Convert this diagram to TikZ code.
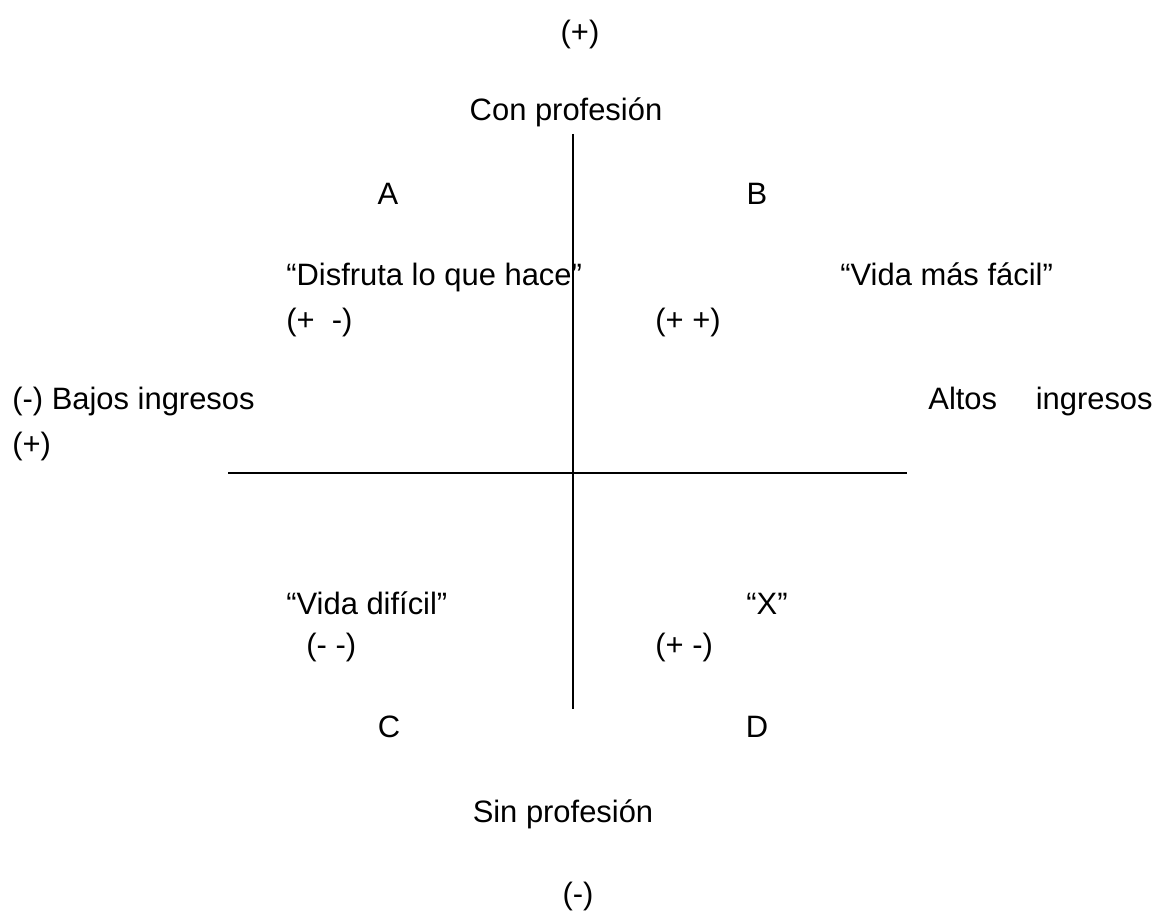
\documentclass[tikz,border=0pt]{standalone}
\usepackage{fontspec}
\setmainfont{Liberation Sans}
\usetikzlibrary{positioning}

\begin{document}
\begin{tikzpicture}[x=0.02cm,y=-0.02cm,
    lbl/.style={inner sep=0pt,font=\fontsize{17.6}{21}\selectfont,
        text height=0.72em,text depth=0.2em}]
            \useasboundingbox (0,0) rectangle (1161,911);
            % axes
            \coordinate (top) at (573,134);
            \coordinate (bottom) at (573,709);
            \coordinate (left) at (228,473);
            \coordinate (right) at (907,473);

            \node [lbl] (plusTop) at (580,38) {(+)};
            \node [lbl] (con) at (566,116) {Con profesión};
            \node [lbl] (A) at (388,200) {A};
            \node [lbl] (B) at (757,200) {B};
            \node [lbl,anchor=west] (disfruta) at (286,281) {“Disfruta lo que hace”};
            \node [lbl,anchor=west] (facil) at (840,281) {“Vida más fácil”};
            \node [lbl,anchor=west] (pm1) at (286,326) {(+\ \ -)};
            \node [lbl,anchor=west] (pp) at (655,326) {(+ +)};
            \node [lbl,anchor=west] (bajos) at (12,405) {(-) Bajos ingresos};
            \node [lbl,anchor=east] (altos) at (1153,405) {Altos\hspace{1.25em}ingresos};
            \node [lbl,anchor=west] (plusLeft) at (12,450) {(+)};
            \node [lbl,anchor=west] (dificil) at (286,610) {“Vida difícil”};
            \node [lbl,anchor=west] (X) at (746,610) {“X”};
            \node [lbl,anchor=west] (mm) at (306,651) {(- -)};
            \node [lbl,anchor=west] (pm2) at (655,651) {(+ -)};
            \node [lbl] (C) at (389,733) {C};
            \node [lbl] (D) at (757,733) {D};
            \node [lbl] (sin) at (563,818) {Sin profesión};
            \node [lbl] (minusBot) at (578,900) {(-)};

            \draw [line width=0.03cm] (top) -- (bottom);
            \draw [line width=0.04cm] (left) -- (right);
        \end{tikzpicture}
\end{document}
